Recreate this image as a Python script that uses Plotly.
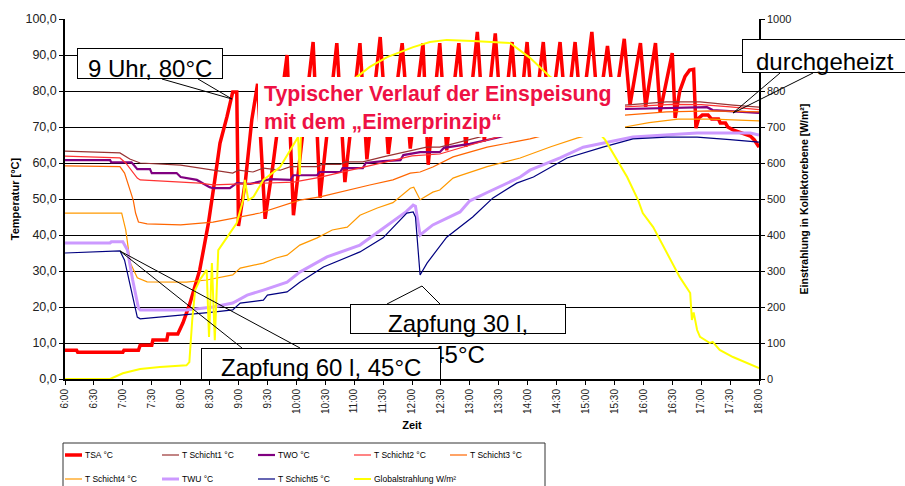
import plotly.graph_objects as go

# ---------------- data ----------------
time_labels = ["6:00", "6:30", "7:00", "7:30", "8:00", "8:30", "9:00", "9:30", "10:00",
               "10:30", "11:00", "11:30", "12:00", "12:30", "13:00", "13:30", "14:00",
               "14:30", "15:00", "15:30", "16:00", "16:30", "17:00", "17:30", "18:00"]
temp_tick_values = [0, 10, 20, 30, 40, 50, 60, 70, 80, 90, 100]
temp_tick_labels = ["0,0", "10,0", "20,0", "30,0", "40,0", "50,0", "60,0", "70,0", "80,0", "90,0", "100,0"]
irr_tick_values = [0, 100, 200, 300, 400, 500, 600, 700, 800, 900, 1000]
irr_tick_labels = ["0", "100", "200", "300", "400", "500", "600", "700", "800", "900", "1000"]

series_names = ["TSA °C", "T Schicht1 °C", "TWO °C", "T Schicht2 °C", "T Schicht3 °C",
                "T Schicht4 °C", "TWU °C", "T Schicht5 °C", "Globalstrahlung W/m²"]

# time in hours
tsa_time = [6.00, 6.20, 6.22, 7.00, 7.02, 7.27, 7.30, 7.50, 7.52, 7.76, 7.78, 7.95, 8.04, 8.16,
            8.33, 8.48, 8.59, 8.68, 8.80, 8.90, 8.97, 9.00, 9.12, 9.23, 9.33, 9.46, 9.60, 9.84,
            9.95, 10.29, 10.41, 10.70, 10.84, 11.10, 11.22, 11.45, 11.59, 11.83, 11.97, 12.19,
            12.28, 12.48, 12.60, 12.81, 12.93, 13.13, 13.25, 13.44, 13.56, 13.73, 13.84, 13.99,
            14.10, 14.27, 14.38, 14.56, 14.67, 14.82, 14.93, 15.11, 15.22, 15.38, 15.50, 15.67,
            15.77, 15.95, 16.04, 16.21, 16.29, 16.50, 16.55, 16.63, 16.72, 16.80, 16.87, 16.91,
            16.96, 17.02, 17.12, 17.18, 17.30, 17.33, 17.42, 17.46, 17.55, 17.72, 17.85, 17.92, 18.00]
tsa_temp = [8.0, 8.0, 7.4, 7.4, 8.0, 8.0, 9.4, 9.4, 10.8, 10.8, 12.5, 12.5, 15.6, 21.0,
            30.3, 43.3, 55.3, 65.5, 72.8, 79.7, 79.7, 42.5, 55.0, 72.0, 82.0, 44.5, 60.0, 90.0,
            45.5, 93.6, 50.3, 93.3, 54.7, 93.3, 61.0, 95.0, 62.5, 93.3, 64.0, 93.3,
            59.5, 93.3, 63.5, 93.3, 64.5, 96.4, 66.0, 96.0, 67.5, 93.6, 68.5, 93.6,
            69.5, 93.6, 70.5, 93.6, 71.5, 93.6, 72.5, 96.4, 73.5, 92.5, 75.0, 94.5,
            76.1, 93.3, 75.6, 93.3, 74.2, 90.5, 72.5, 80.0, 84.0, 85.8, 86.0, 69.7,
            72.5, 73.3, 73.3, 72.2, 72.2, 71.1, 71.1, 70.0, 69.2, 68.3, 67.5, 66.4, 64.4]

s1_time = [6.00, 6.95, 7.12, 7.30, 8.00, 8.90, 9.00, 9.25, 9.43, 9.72, 9.90, 10.36, 10.45, 10.76,
           10.85, 11.15, 11.50, 11.85, 12.25, 12.48, 13.00, 13.47, 14.00, 14.50, 15.00, 15.68,
           16.40, 16.98, 17.55, 18.00]
s1_temp = [63.3, 62.8, 61.1, 60.0, 59.4, 57.2, 58.0, 57.5, 58.6, 58.0, 59.0, 59.0, 59.6, 59.6,
           60.3, 60.3, 61.7, 63.0, 64.4, 64.4, 66.5, 68.3, 70.5, 72.6, 74.4, 76.1,
           77.0, 77.0, 76.1, 75.5]

two_time = [6.00, 6.78, 6.80, 7.15, 7.25, 7.47, 7.50, 7.93, 8.00, 8.28, 8.50, 8.56, 8.85, 8.97,
            9.20, 9.55, 9.90, 9.95, 10.36, 10.40, 10.76, 10.80, 11.15, 11.20, 11.50, 11.80, 11.85,
            12.14, 12.48, 12.55, 13.00, 13.47, 14.00, 14.50, 15.00, 15.50, 15.70, 16.50, 17.10,
            17.20, 17.60, 18.00]
two_temp = [60.8, 60.8, 60.2, 60.2, 58.3, 58.3, 57.2, 57.2, 56.1, 55.3, 53.3, 53.0, 53.0, 54.4,
            54.2, 55.5, 55.3, 56.6, 56.6, 57.5, 57.5, 58.6, 58.6, 60.0, 60.5, 60.8, 62.2,
            63.0, 63.0, 64.2, 65.3, 67.0, 69.5, 71.8, 73.5, 74.8, 75.0, 75.3, 75.5,
            74.7, 74.3, 73.9]

s2_time = [6.00, 6.95, 7.05, 7.25, 7.30, 8.33, 8.56, 9.03, 9.95, 10.40, 10.80, 11.20, 11.60,
           12.00, 12.48, 13.00, 13.50, 14.00, 14.50, 15.00, 15.68, 16.50, 17.00, 17.50, 18.00]
s2_temp = [61.9, 61.4, 60.0, 55.8, 55.3, 54.4, 53.9, 54.2, 54.7, 56.0, 57.5, 59.0, 60.5,
           62.0, 62.5, 65.0, 67.2, 69.8, 72.0, 74.0, 75.6, 76.3, 76.2, 75.6, 74.8]

s3_time = [6.00, 6.95, 7.03, 7.12, 7.18, 7.22, 7.27, 7.42, 8.00, 8.56, 9.37, 10.06, 10.41, 11.27,
           11.67, 11.97, 12.14, 12.36, 12.71, 13.30, 14.04, 14.60, 15.20, 15.68, 16.40, 17.20, 18.00]
s3_temp = [59.2, 59.0, 57.2, 52.5, 49.7, 46.1, 43.6, 43.1, 42.8, 43.6, 46.1, 49.7, 50.6, 53.9,
           55.3, 57.2, 57.5, 58.9, 61.7, 64.4, 66.7, 69.0, 71.5, 73.3, 74.2, 74.5, 74.2]

s4_time = [6.00, 6.98, 7.05, 7.13, 7.25, 7.42, 8.10, 8.45, 8.90, 9.03, 9.43, 9.65, 9.84, 10.06,
           10.36, 10.62, 10.88, 11.10, 11.40, 11.67, 11.97, 12.03, 12.14, 12.36, 12.48, 12.71,
           12.83, 13.30, 13.87, 14.40, 14.85, 15.30, 15.68, 16.10, 16.60, 17.20, 18.00]
s4_temp = [46.1, 46.1, 41.4, 32.2, 28.1, 27.0, 26.9, 27.5, 28.9, 30.8, 32.2, 33.6, 34.4, 37.2,
           39.2, 41.4, 42.2, 45.5, 47.5, 49.0, 53.0, 53.3, 49.8, 51.9, 52.5, 55.8,
           56.5, 59.0, 61.4, 64.5, 66.9, 68.8, 70.0, 71.2, 72.2, 72.2, 71.7]

twu_time = [6.00, 6.78, 6.80, 7.00, 7.08, 7.17, 7.27, 7.30, 8.10, 8.56, 8.90, 9.15, 9.43, 9.84,
            10.06, 10.53, 11.10, 11.62, 11.90, 12.02, 12.06, 12.14, 12.36, 12.83, 13.00, 13.30,
            13.87, 14.04, 14.56, 14.96, 15.37, 15.82, 16.10, 16.93, 17.85, 18.00]
twu_temp = [37.8, 37.8, 38.1, 38.1, 35.8, 27.5, 19.7, 19.2, 19.2, 20.0, 21.1, 23.3, 24.7, 26.9,
            29.7, 33.9, 37.2, 43.3, 46.5, 48.3, 48.0, 40.0, 42.8, 46.4, 49.5, 51.8,
            56.1, 58.0, 61.4, 64.4, 65.8, 67.2, 67.5, 68.3, 68.3, 67.8]

s5_time = [6.00, 6.95, 7.03, 7.15, 7.25, 7.30, 8.10, 8.56, 8.90, 9.03, 9.43, 9.50, 9.84, 10.06,
           10.47, 11.10, 11.50, 11.91, 12.02, 12.06, 12.14, 12.26, 12.60, 13.05, 13.40, 13.81,
           14.10, 14.68, 15.30, 15.82, 16.40, 16.93, 17.50, 18.00]
s5_temp = [35.0, 35.6, 33.0, 24.7, 17.2, 16.7, 17.8, 18.6, 19.2, 21.1, 21.9, 23.3, 24.2, 26.9,
           31.1, 35.3, 39.2, 46.1, 46.4, 45.0, 28.9, 32.2, 39.4, 45.0, 50.3, 54.4,
           56.1, 61.4, 64.4, 66.7, 67.2, 67.2, 66.5, 65.8]

glob_time = [6.00, 6.78, 7.00, 7.30, 7.64, 8.10, 8.15, 8.20, 8.25, 8.33, 8.45, 8.49, 8.54, 8.59,
             8.65, 8.80, 8.97, 9.08, 9.11, 9.17, 9.26, 9.43, 9.72, 10.03, 10.06, 10.08, 10.50,
             10.98, 11.27, 11.57, 12.02, 12.31, 12.60, 13.05, 13.52, 13.70, 14.04, 14.21, 14.39,
             14.47, 14.90, 15.34, 15.55, 15.72, 15.91, 15.99, 16.17, 16.29, 16.51, 16.63, 16.81,
             16.84, 16.87, 16.93, 16.98, 17.15, 17.20, 17.32, 17.55, 18.00]
glob_irr = [0, 0, 16, 28, 33, 38, 47, 164, 247, 275, 303, 117, 322, 108,
            358, 394, 433, 497, 553, 497, 506, 553, 589, 672, 567, 685, 765,
            831, 867, 894, 922, 936, 942, 939, 936, 933, 892, 867, 839,
            831, 745, 664, 608, 561, 497, 461, 422, 386, 322, 283, 239,
            164, 185, 136, 117, 100, 103, 81, 61, 30]

# ---------------- style ----------------
FONT = "Arial, 'Liberation Sans', sans-serif"
colors = ["#ff0000", "#993333", "#800080", "#ff3333", "#ff6600",
          "#ff9900", "#cc99ff", "#000080", "#ffff00"]
widths = [3.5, 1.2, 2.2, 1.2, 1.2, 1.2, 3.0, 1.2, 2.0]

def hours(label):
    h, m = label.split(":")
    return int(h) + int(m) / 60.0

tick_hours = [hours(t) for t in time_labels]

data = [(tsa_time, tsa_temp), (s1_time, s1_temp), (two_time, two_temp), (s2_time, s2_temp),
        (s3_time, s3_temp), (s4_time, s4_temp), (twu_time, twu_temp), (s5_time, s5_temp),
        (glob_time, glob_irr)]

fig = go.Figure()
for i, (name, (xs, ys)) in enumerate(zip(series_names, data)):
    fig.add_trace(go.Scatter(
        x=xs, y=ys, name=name, mode="lines",
        line=dict(color=colors[i], width=widths[i]),
        yaxis="y2" if i == 8 else "y", showlegend=False, hoverinfo="skip"))

# plot area in pixels: x 65..759, y 19..379
L, R, T, B = 65, 759, 19, 379
def PX(x):
    return (x - L) / (R - L)
def PY(y):
    return (B - y) / (B - T)

fig.update_layout(
    width=905, height=486,
    margin=dict(l=L, r=905 - R, t=T, b=486 - B, pad=0, autoexpand=False),
    paper_bgcolor="white", plot_bgcolor="white",
    font=dict(family=FONT, color="#000000"),
    xaxis=dict(range=[6, 18], tickvals=tick_hours, ticktext=time_labels, tickangle=-90,
               ticks="outside", ticklen=4, tickcolor="#000", showline=True, linecolor="#000",
               linewidth=2, showgrid=False, zeroline=False, automargin=False,
               tickfont=dict(size=10, color="#222"),
               title=dict(text="<b>Zeit</b>", font=dict(size=11), standoff=8)),
    yaxis=dict(range=[0, 100], tickvals=temp_tick_values, ticktext=temp_tick_labels,
               ticks="outside", ticklen=4, tickcolor="#000", showline=True, linecolor="#000",
               linewidth=1.5, showgrid=True, gridcolor="#000", gridwidth=1, zeroline=False,
               automargin=False, tickfont=dict(size=12.5, color="#222"),
               title=dict(text="<b>Temperatur [°C]</b>", font=dict(size=11), standoff=4)),
    yaxis2=dict(range=[0, 1000], tickvals=irr_tick_values, ticktext=irr_tick_labels,
                overlaying="y", side="right", ticks="outside", ticklen=4, tickcolor="#000",
                showline=True, linecolor="#000", linewidth=1.5, showgrid=False, zeroline=False,
                automargin=False, tickfont=dict(size=11, color="#222"),
                title=dict(text="<b>Einstrahlung in Kollektorebene [W/m²]</b>",
                           font=dict(size=10.5), standoff=10)),
)

shapes = []
annotations = []

def box(x0, y0, x1, y1, border=True):
    annotations.append(dict(
        xref="paper", yref="paper", x=PX((x0 + x1) / 2), y=PY((y0 + y1) / 2),
        xanchor="center", yanchor="middle", text=" ", showarrow=False,
        width=(x1 - x0) - 2, height=(y1 - y0) - 2, borderpad=0,
        bgcolor="white", bordercolor="#000" if border else "white", borderwidth=1))

def text(x, y, s, size=24, color="#000", anchor="center", bold=False, align="center"):
    annotations.append(dict(
        xref="paper", yref="paper", x=PX(x), y=PY(y), xanchor=anchor, yanchor="middle",
        text=("<b>%s</b>" % s) if bold else s, showarrow=False, align=align,
        font=dict(size=size, color=color, family=FONT)))

def line(x0, y0, x1, y1, w=1, color="#000"):
    shapes.append(dict(type="line", xref="paper", yref="paper", x0=PX(x0), y0=PY(y0),
                       x1=PX(x1), y1=PY(y1), line=dict(color=color, width=w), layer="above"))

# callouts
line(162, 79, 232, 99); line(198, 79, 232, 99)
line(780, 73, 733, 113); line(813, 73, 733, 113)
line(387, 304, 422, 286); line(440, 304, 422, 286)
line(242, 348, 120, 251); line(300, 348, 120, 251)

# annotation boxes and texts
box(77, 48, 223, 79)
text(150, 68.5, "9 Uhr, 80°C")
box(258, 77, 625, 137, border=False)
text(262, 108, "Typischer Verlauf der Einspeisung<br>mit dem „Eimerprinzip“", size=21.3,
     color="#ee1144", anchor="left", bold=True, align="left")
box(742, 39, 908, 73)
text(825, 61, "durchgeheizt")
box(350, 304, 566, 334)
text(458, 338.5, "Zapfung 30 l,<br>45°C")
box(201, 348, 441, 380)
text(321, 367, "Zapfung 60 l, 45°C")

# legend
shapes.append(dict(type="rect", xref="paper", yref="paper", x0=PX(63), x1=PX(545),
                   y0=PY(443), y1=PY(495), line=dict(color="#333", width=1),
                   fillcolor="rgba(0,0,0,0)", layer="above"))
col_x = [65, 162, 258, 354, 450]
row_y = [455, 479]
for i, name in enumerate(series_names):
    cx = col_x[i % 5]
    cy = row_y[i // 5]
    line(cx, cy, cx + 17, cy, w=widths[i], color=colors[i])
    text(cx + 18, cy, name, size=8.5, anchor="left", align="left")

fig.update_layout(shapes=shapes, annotations=annotations)
fig.write_html("out.html", config={"displayModeBar": False},
               post_script="document.body.style.margin='0';")
